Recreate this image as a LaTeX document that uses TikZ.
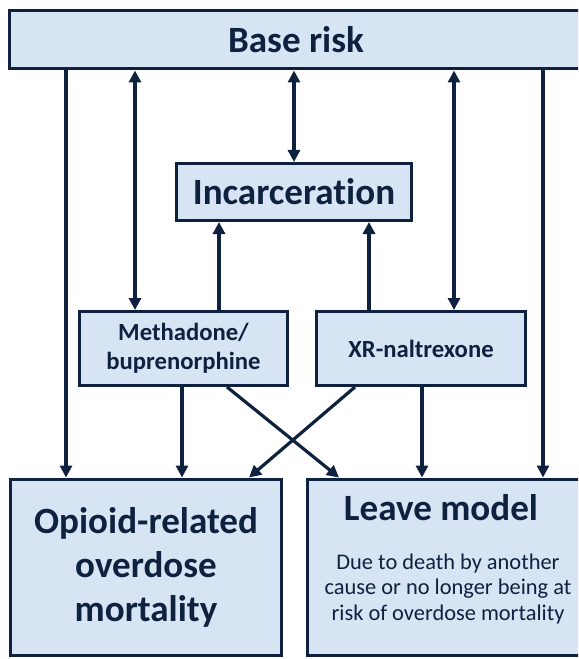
\documentclass[tikz,border=0pt]{standalone}
\usepackage{fontspec}
\setmainfont{Carlito}[Ligatures=NoCommon]
\usetikzlibrary{arrows.meta}
\definecolor{boxfill}{RGB}{214,228,243}
\definecolor{navy}{RGB}{14,33,62}
\newcommand\pxu{0.75pt}
\newcommand\bigfnt{\fontsize{27.8}{33}\selectfont\bfseries}
\newcommand\midfnt{\fontsize{18.5}{22}\selectfont\bfseries}
\newcommand\smallfnt{\fontsize{16.8}{19.2}\selectfont}
\tikzset{
    box/.style={draw=navy, fill=boxfill, line width=2.25pt, text=navy, inner sep=0pt, align=center},
    link/.style={navy, line width=2.4pt, -{Triangle[length=9pt,width=9pt]}},
    twoway/.style={link, {Triangle[length=9pt,width=9pt]}-{Triangle[length=9pt,width=9pt]}},
}
\begin{document}
\begin{tikzpicture}[x=0.75pt,y=-0.75pt]
        \useasboundingbox (0,0) rectangle (578,659);
        \clip (0,0) rectangle (578,659);
        \node[box, font=\bigfnt, minimum width=574*\pxu, minimum height=58*\pxu] (base) at (296,40) {Base risk};
        \node[box, font=\bigfnt, minimum width=235*\pxu, minimum height=57*\pxu] (incar) at (294,192) {Incarceration};
        \node[box, font=\midfnt, minimum width=208*\pxu, minimum height=74*\pxu] (metha) at (183.5,348.5) {Methadone/\\buprenorphine};
        \node[box, font=\midfnt, minimum width=209*\pxu, minimum height=74*\pxu] (xr) at (421,348.5) {XR-naltrexone};
        \node[box, font=\bigfnt, minimum width=271*\pxu, minimum height=176*\pxu] (opioid) at (146,567) {Opioid-related\\overdose\\mortality};
        \node[box, minimum width=276*\pxu, minimum height=176*\pxu] (leave) at (445,567) {};
        \node[text=navy, font=\bigfnt, anchor=base] (leavetitle) at (441,520) {Leave model};
        \node[text=navy, font=\smallfnt, align=center] (leavenote) at (448,589) {Due to death by another\\cause or no longer being at\\risk of overdose mortality};
        \draw[link] (base.south -| 66,0) -- (opioid.north -| 66,0);
        \draw[twoway] (base.south -| 135,0) -- (metha.north -| 135,0);
        \draw[twoway] (base.south -| 294,0) -- (incar.north);
        \draw[twoway] (base.south -| 454,0) -- (xr.north -| 454,0);
        \draw[link] (base.south -| 543,0) -- (leave.north -| 543,0);
        \draw[link] (metha.north -| 219,0) -- (incar.south -| 219,0);
        \draw[link] (xr.north -| 369,0) -- (incar.south -| 369,0);
        \draw[link] (metha.south -| 182,0) -- (opioid.north -| 182,0);
        \draw[link] (xr.south -| 422,0) -- (leave.north -| 422,0);
        \draw[link] (metha.south -| 227,0) -- (leave.north -| 339,0);
        \draw[link] (xr.south -| 355,0) -- (opioid.north -| 249,0);
    \end{tikzpicture}
\end{document}
